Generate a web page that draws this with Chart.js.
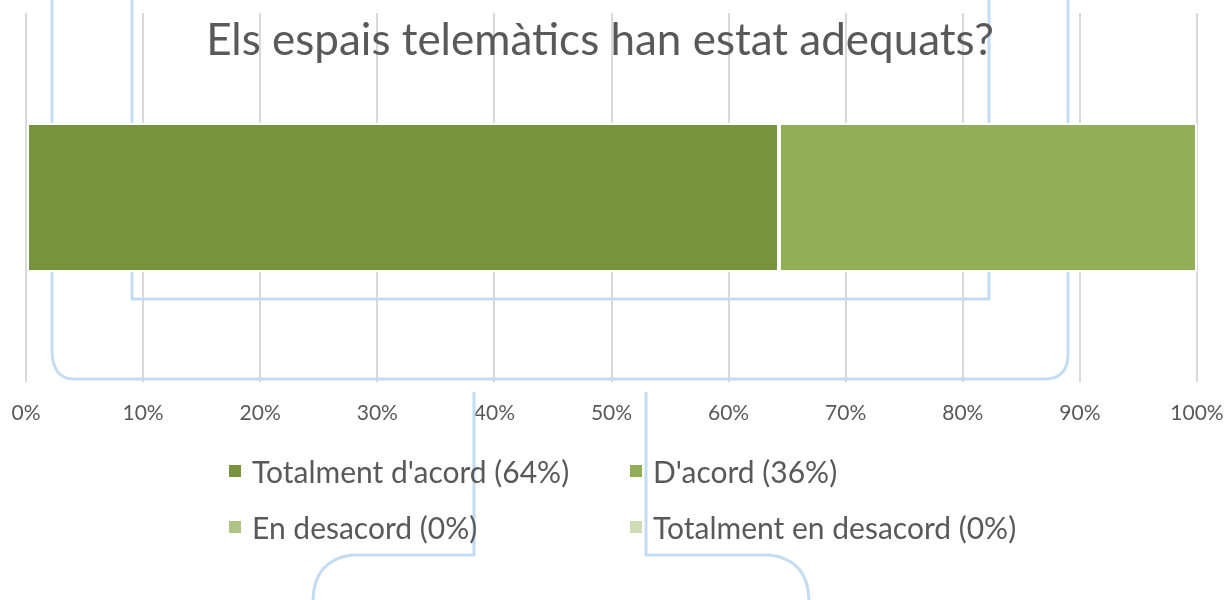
<!DOCTYPE html>
<html>
<head>
<meta charset="utf-8">
<script src="https://cdn.jsdelivr.net/npm/chart.js@4/dist/chart.umd.min.js"></script>
<style>
  body { margin: 0; background: #fff; }
  #wrap { position: relative; width: 1226px; height: 600px; overflow: hidden; }
  #title {
    position: absolute; left: 0; width: 1200px; top: 8px; text-align: center;
    font-family: Lato, sans-serif; font-size: 44px; color: #595959; line-height: 60px;
  }
  #legend {
    position: absolute; left: 229px; top: 452px;
    display: grid; grid-template-columns: 401px 400px; row-gap: 18px;
    font-family: Lato, sans-serif; font-size: 30px; color: #595959;
  }
  .item { display: flex; align-items: center; height: 38px; }
  .box { width: 12px; height: 12px; margin-right: 11px; }
</style>
</head>
<body>
<div id="wrap">
  <canvas id="chart" width="1226" height="600"></canvas>
  <div id="title">Els espais telemàtics han estat adequats?</div>
  <div id="legend"></div>
</div>
<script>
// data
const categories = ['Els espais telemàtics han estat adequats?'];
const seriesNames = ["Totalment d'acord (64%)", "D'acord (36%)", "En desacord (0%)", "Totalment en desacord (0%)"];
const seriesValues = [64.3, 35.7, 0, 0];
const seriesColors = ['#77933C', '#92AE56', '#ADC685', '#CEDCB5'];
const tickValues = [0, 10, 20, 30, 40, 50, 60, 70, 80, 90, 100];

// the light blue connector lines that sit behind the chart in the source doc
const connectors = {
  id: 'connectors',
  beforeDatasetsDraw(chart) {
    const c = chart.ctx;
    c.save();
    c.strokeStyle = '#C3DCF2';
    c.lineWidth = 3;
    c.lineJoin = 'round';

    c.beginPath();
    c.moveTo(52, 0);
    c.lineTo(52, 352);
    c.quadraticCurveTo(53, 379, 74, 379);
    c.lineTo(1046, 379);
    c.quadraticCurveTo(1068, 378, 1068, 354);
    c.lineTo(1068, 0);
    c.stroke();

    c.beginPath();
    c.moveTo(132, 0);
    c.lineTo(132, 299);
    c.lineTo(989, 299);
    c.lineTo(989, 0);
    c.stroke();

    c.beginPath();
    c.moveTo(474, 392);
    c.lineTo(474, 555);
    c.lineTo(352, 555);
    c.quadraticCurveTo(314, 560, 313, 600);
    c.stroke();

    c.beginPath();
    c.moveTo(646, 392);
    c.lineTo(646, 555);
    c.lineTo(770, 555);
    c.quadraticCurveTo(808, 560, 809, 600);
    c.stroke();
    c.restore();
  }
};

const ctx = document.getElementById('chart');

new Chart(ctx, {
  type: 'bar',
  data: {
    labels: categories,
    datasets: seriesNames.map((name, i) => ({
      label: name,
      data: [seriesValues[i]],
      backgroundColor: seriesColors[i],
      borderColor: '#ffffff',
      borderWidth: 2,
      borderSkipped: false,
      categoryPercentage: 1,
      barPercentage: 0.404
    }))
  },
  options: {
    indexAxis: 'y',
    responsive: false,
    animation: false,
    layout: { padding: { left: 26, right: 29, top: 13, bottom: 155 } },
    plugins: {
      legend: { display: false },
      title: { display: false },
      tooltip: { enabled: false }
    },
    scales: {
      x: {
        stacked: true,
        min: 0,
        max: 100,
        afterBuildTicks: (axis) => { axis.ticks = tickValues.map(v => ({ value: v })); },
        afterFit: (axis) => { axis.paddingLeft = 0; axis.paddingRight = 0; },
        grid: { color: '#D9D9D9', lineWidth: 2, drawTicks: false },
        border: { display: false },
        ticks: {
          padding: 19,
          color: '#595959',
          font: { family: 'Lato', size: 21 },
          callback: (v) => v + '%'
        }
      },
      y: {
        stacked: true,
        display: false
      }
    }
  },
  plugins: [connectors]
});

// legend laid out in two columns like the original
const legendEl = document.getElementById('legend');
seriesNames.forEach((name, i) => {
  const item = document.createElement('div');
  item.className = 'item';
  const box = document.createElement('span');
  box.className = 'box';
  box.style.background = seriesColors[i];
  const txt = document.createElement('span');
  txt.textContent = name;
  item.appendChild(box);
  item.appendChild(txt);
  legendEl.appendChild(item);
});
</script>
</body>
</html>
